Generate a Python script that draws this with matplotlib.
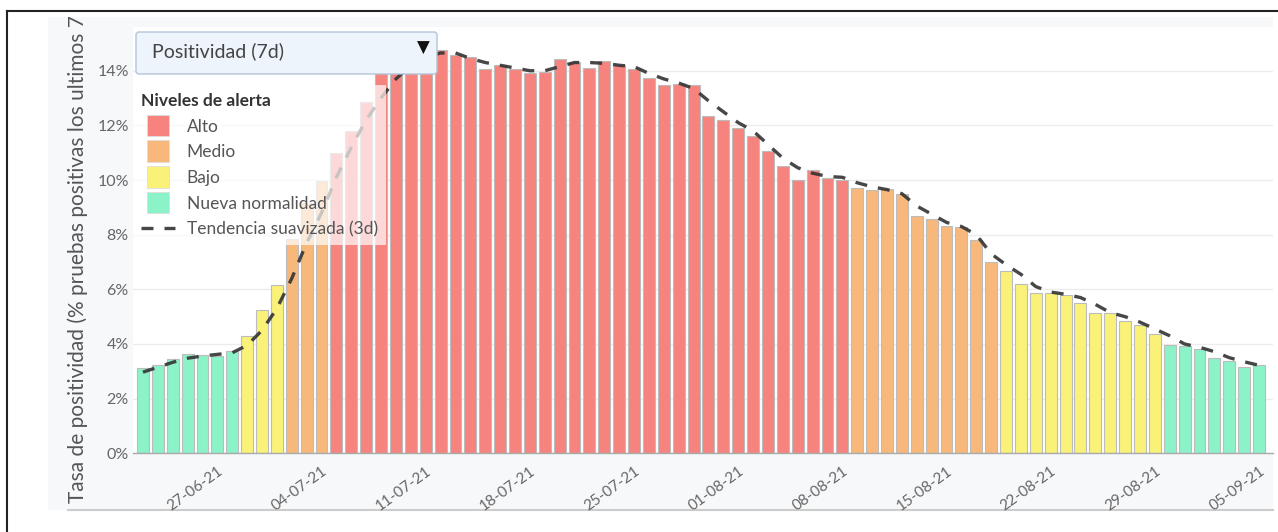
import matplotlib
matplotlib.use("Agg")
import matplotlib.pyplot as plt
import matplotlib.transforms as mtransforms
from matplotlib.patches import Rectangle, FancyBboxPatch, Patch
from matplotlib.lines import Line2D
from matplotlib.legend_handler import HandlerPatch
import pandas as pd

# daily data 22-06-21 .. 05-09-21
start_date = "2021-06-22"
end_date = "2021-09-05"

positividad = [
    3.11, 3.23, 3.44, 3.63, 3.59, 3.57, 3.75, 4.29, 5.24, 6.15,
    7.85, 9.15, 9.95, 11.0, 11.8, 12.85,
    14.0, 14.3, 14.6, 14.7,
    14.76, 14.56, 14.49, 14.06, 14.2, 14.08, 13.92, 13.95, 14.44, 14.32,
    14.10, 14.34, 14.22, 14.06, 13.72, 13.47, 13.50, 13.47, 12.33, 12.19,
    11.92, 11.61, 11.08, 10.51, 10.0, 10.38, 10.06, 10.0, 9.71, 9.63,
    9.67, 9.50, 8.67, 8.58, 8.33, 8.29, 7.82, 7.01, 6.68, 6.21,
    5.86, 5.86, 5.80, 5.49, 5.15, 5.13, 4.84, 4.70, 4.38, 3.97,
    3.93, 3.83, 3.48, 3.39, 3.16, 3.22,
]

tendencia = [
    2.97, 3.15, 3.33, 3.48, 3.56, 3.62, 3.68, 3.95, 4.5, 5.3,
    6.4, 7.7, 8.8, 10.1, 11.2, 12.2, 13.0, 13.7, 14.2, 14.5,
    14.65, 14.65, 14.45, 14.3, 14.2, 14.1, 14.0, 14.0, 14.15, 14.3,
    14.3, 14.27, 14.2, 14.15, 13.9, 13.7, 13.55, 13.35, 12.9, 12.5,
    12.1, 11.8, 11.3, 10.8, 10.45, 10.25, 10.13, 10.1, 9.9, 9.75,
    9.65, 9.5, 9.05, 8.75, 8.45, 8.3, 8.0, 7.3, 6.9, 6.55,
    6.1, 5.9, 5.82, 5.7, 5.45, 5.15, 5.0, 4.8, 4.55, 4.3,
    4.0, 3.88, 3.72, 3.5, 3.35, 3.22,
]

# alert level runs (level, number of days)
nivel_tramos = [
    ("Nueva normalidad", 7), ("Bajo", 3), ("Medio", 3), ("Alto", 35),
    ("Medio", 10), ("Bajo", 11), ("Nueva normalidad", 7),
]

niveles = ["Alto", "Medio", "Bajo", "Nueva normalidad"]
colores = {"Alto": "#f6837e", "Medio": "#f8b87b", "Bajo": "#f9f178", "Nueva normalidad": "#8cf2c8"}

tick_labels = ["27-06-21", "04-07-21", "11-07-21", "18-07-21", "25-07-21", "01-08-21",
               "08-08-21", "15-08-21", "22-08-21", "29-08-21", "05-09-21"]
y_ticks = [0, 2, 4, 6, 8, 10, 12, 14]

dates = pd.date_range(start_date, end_date, freq="D")
date_str = [d.strftime("%d-%m-%y") for d in dates]
nivel = []
for name, n in nivel_tramos:
    nivel += [name] * n
x = list(range(len(dates)))

W, H = 1278, 532
plt.rcParams["font.family"] = ["Lato", "DejaVu Sans"]
fig = plt.figure(figsize=(W / 100, H / 100), dpi=100)
px = mtransforms.Affine2D().scale(1 / W, -1 / H).translate(0, 1) + fig.transFigure

# outer frame and gray panel (behind the axes)
fig.add_artist(Line2D([7, W], [11, 11], color="#222222", lw=1.5, transform=px, zorder=-5))
fig.add_artist(Line2D([7, 7], [11, H], color="#222222", lw=1.5, transform=px, zorder=-5))
panel = Rectangle((48, 17), 1273 - 48, 510 - 17, facecolor="#f7f8fa", edgecolor="none",
                  transform=px, zorder=-5)
fig.add_artist(panel)
fig.add_artist(Line2D([68, 1273], [510, 510], color="#cccccc", lw=1.5, transform=px, zorder=-4))

ax_l, ax_r, ax_t, ax_b = 133, 1273, 27, 453.3
ax = fig.add_axes([ax_l / W, (H - ax_b) / H, (ax_r - ax_l) / W, (ax_b - ax_t) / H])
ax.set_facecolor("white")

ax.bar(x, positividad, width=0.8, color=[colores[n] for n in nivel],
       edgecolor="#bcbcbc", linewidth=0.8, zorder=2)
trend, = ax.plot(x, tendencia, color="#333333", lw=2.4, alpha=0.9, dashes=(3.6, 3.3),
                 zorder=3, label="Tendencia suavizada (3d)")

ax.set_xlim(-0.67, 75.94)
ax.set_ylim(0, 15.6)
ax.set_yticks(y_ticks)
ax.set_yticklabels([f"{v}%" for v in y_ticks])
ax.grid(axis="y", color="#ececec", lw=1, zorder=0)
ax.set_axisbelow(True)
tick_pos = [date_str.index(t) for t in tick_labels]
ax.set_xticks(tick_pos)
ax.set_xticklabels(tick_labels, rotation=36, ha="right", va="top", rotation_mode="anchor")
ax.tick_params(axis="y", length=0, colors="#666666", labelsize=11.5, pad=3)
ax.tick_params(axis="x", length=0, colors="#666666", labelsize=11, pad=8)
for s in ["top", "right", "left"]:
    ax.spines[s].set_visible(False)
ax.spines["bottom"].set_color("#aaaaaa")
ax.spines["bottom"].set_linewidth(1)

# y title is clipped by the panel at the top, as in the original
ylab = fig.text(78, 503, "Tasa de positividad (% pruebas positivas los ultimos 7 días)",
                transform=px, rotation=90, rotation_mode="anchor", ha="left", va="center",
                fontsize=15, color="#555555")
ylab.set_clip_path(panel)


def square_patch(legend, orig_handle, xdescent, ydescent, width, height, fontsize):
    s = fontsize * 1.25
    return Rectangle((width / 2 - s / 2 - xdescent, height / 2 - s / 2 - ydescent), s, s)


handles = [Patch(facecolor=colores[n], edgecolor="#dddddd", linewidth=0.6, label=n) for n in niveles]
handles.append(trend)
leg = ax.legend(handles=handles, title="Niveles de alerta", loc="upper left",
                bbox_to_anchor=(ax_l / W, 1 - 85 / H), bbox_transform=fig.transFigure,
                frameon=True, framealpha=0.7, edgecolor="none", facecolor="white", fancybox=False,
                fontsize=12.5, title_fontsize=12.5, alignment="left",
                handlelength=1.95, handletextpad=0.7, labelspacing=0.56, borderpad=0.45,
                borderaxespad=0, handler_map={Patch: HandlerPatch(patch_func=square_patch)})
leg.get_title().set_fontweight("bold")
leg.get_title().set_color("#333333")
for t in leg.get_texts():
    t.set_color("#555555")
leg.set_zorder(5)

# dropdown selector
box = FancyBboxPatch((136, 32), 437 - 136, 74 - 32, boxstyle="round,pad=0,rounding_size=3",
                     facecolor="#eef4fb", edgecolor="#b3c4da", lw=1, transform=px, zorder=6)
fig.add_artist(box)
fig.text(152, 51, "Positividad (7d)", transform=px, ha="left", va="center",
         fontsize=14, color="#444444", zorder=7)
fig.text(423, 48, "▼", transform=px, ha="center", va="center", fontsize=12,
         color="#111111", family="DejaVu Sans", zorder=7)

fig.savefig("out.png", dpi=100)
